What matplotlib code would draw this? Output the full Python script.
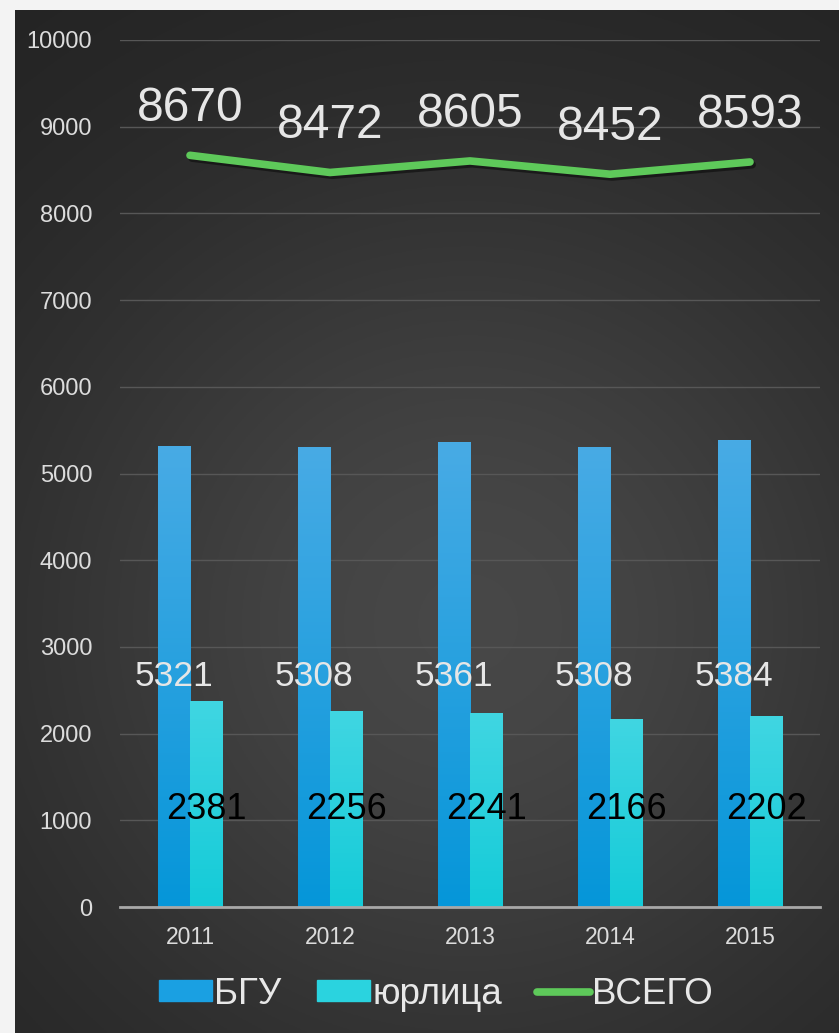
import matplotlib.pyplot as plt
import matplotlib.patheffects as pe
from matplotlib.patches import Patch
from matplotlib.lines import Line2D
import numpy as np

# data
years = ['2011', '2012', '2013', '2014', '2015']
bgu = [5321, 5308, 5361, 5308, 5384]
yurlica = [2381, 2256, 2241, 2166, 2202]
total = [8670, 8472, 8605, 8452, 8593]

plt.rcParams['font.family'] = ['Liberation Sans', 'DejaVu Sans']

fig = plt.figure(figsize=(8.39, 10.33), dpi=100)
fig.patch.set_facecolor('#f3f3f3')

# dark panel, lighter in the middle
bg = fig.add_axes([15 / 839, 0, 1 - 15 / 839, 1 - 10 / 1033])
yy, xx = np.mgrid[0:1:400j, 0:1:400j]
r2 = ((xx - 0.55) / 0.75) ** 2 + ((yy - 0.6) / 0.6) ** 2
val = 0.13 + 0.15 * np.exp(-r2 * 1.6)
bg.imshow(np.dstack([val, val, val]), extent=[0, 1, 0, 1], aspect='auto', origin='upper')
bg.axis('off')

ax = fig.add_axes([120 / 839, 1 - 907 / 1033, 700 / 839, 867 / 1033])
ax.set_facecolor('none')
ax.set_xlim(-0.5, len(years) - 0.5)
ax.set_ylim(0, 10000)

x = np.arange(len(years))
w = 0.23


def grad_bars(xs, heights, top, bottom):
    bars = ax.bar(xs, heights, w, color=bottom, zorder=3)
    g = np.linspace(0, 1, 256)[:, None]
    c0 = np.array(plt.matplotlib.colors.to_rgb(top))
    c1 = np.array(plt.matplotlib.colors.to_rgb(bottom))
    img = c0[None, None, :] * (1 - g[..., None]) + c1[None, None, :] * g[..., None]
    for b in bars:
        im = ax.imshow(img, extent=[b.get_x(), b.get_x() + b.get_width(), 0, b.get_height()],
                       aspect='auto', origin='upper', zorder=3)
        im.set_clip_path(b)
    return bars


grad_bars(x - w / 2, bgu, '#48abe5', '#0596d9')
grad_bars(x + w / 2, yurlica, '#40d6e2', '#14cbd8')
ax.set_xlim(-0.5, len(years) - 0.5)
ax.set_ylim(0, 10000)

ax.plot(x, total, color='#5ec95a', lw=5.5, solid_capstyle='round',
        solid_joinstyle='round', zorder=4,
        path_effects=[pe.SimpleLineShadow(offset=(1.5, -2), shadow_color='black', alpha=0.45),
                      pe.Normal()])

for i in range(len(years)):
    ax.text(x[i], total[i] + 540, str(total[i]), ha='center', va='center',
            fontsize=34.5, color='#e6e6e6', zorder=5)
    ax.text(x[i] - w / 2, 2660, str(bgu[i]), ha='center', va='center',
            fontsize=25.5, color='#e6e6e6', zorder=5)
    ax.text(x[i] + w / 2, 1130, str(yurlica[i]), ha='center', va='center',
            fontsize=26, color='black', zorder=5)

ax.set_yticks(range(0, 10001, 1000))
ax.set_xticks(x)
ax.set_xticklabels(years)
ax.grid(axis='y', color='#575757', lw=1, zorder=0)
ax.tick_params(axis='y', length=0, pad=20, labelsize=17, labelcolor='#dcdcdc')
ax.tick_params(axis='x', length=0, pad=14, labelsize=16.5, labelcolor='#dcdcdc')
for s in ['top', 'right', 'left']:
    ax.spines[s].set_visible(False)
ax.spines['bottom'].set_color('#a8a8a8')
ax.spines['bottom'].set_linewidth(2)
ax.spines['bottom'].set_zorder(4)

handles = [Patch(color='#1aa0e2'), Patch(color='#2ad3df'),
           Line2D([], [], color='#5ec95a', lw=5.5, solid_capstyle='round')]
fig.legend(handles, ['БГУ', 'юрлица', 'ВСЕГО'], loc='center',
           bbox_to_anchor=(436 / 839, 1 - 994 / 1033), ncol=3, frameon=False,
           fontsize=26.5, handlelength=1.45, handleheight=0.5, handletextpad=0.06,
           columnspacing=0.95, labelcolor='#e8e8e8')

fig.savefig('out.png', dpi=100, facecolor=fig.get_facecolor())
